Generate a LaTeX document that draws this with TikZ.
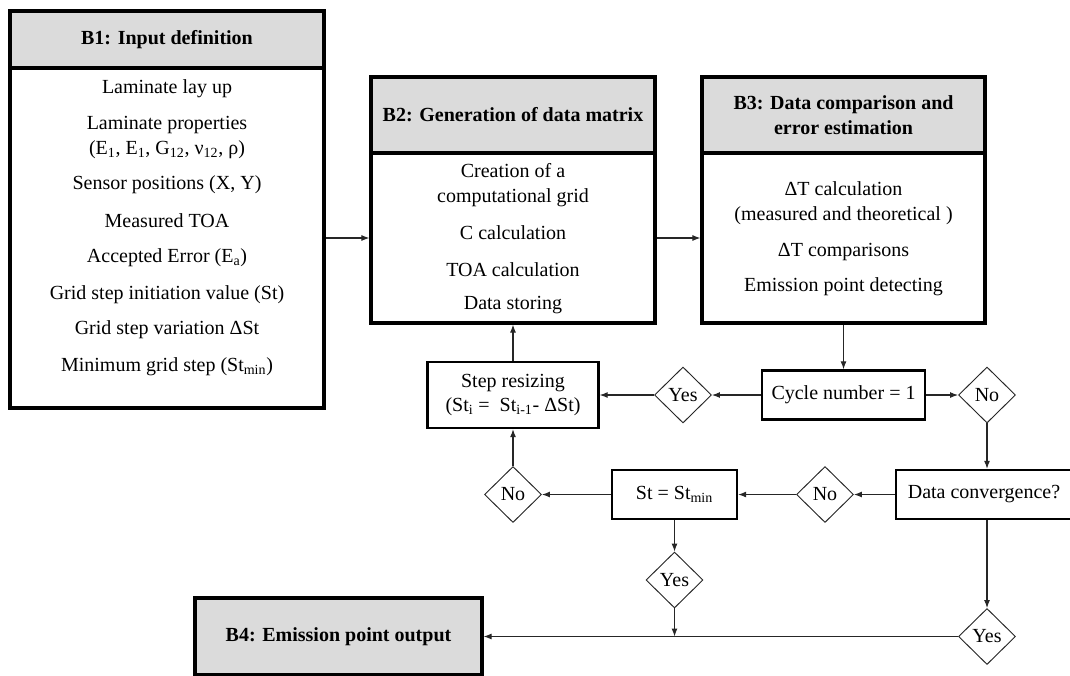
\documentclass[tikz,border=0pt]{standalone}
\usepackage{fontspec}
\setmainfont{Liberation Serif}
\usetikzlibrary{shapes.geometric,arrows.meta}
\newcommand{\tfnt}{\fontsize{15}{18.5}\selectfont}
\begin{document}
\begin{tikzpicture}[x=0.75pt,y=-0.75pt,
  txt/.style={font=\tfnt, align=center, inner sep=0pt},
  bigbox/.style={draw=black, line width=2.4pt, inner sep=0pt, align=center},
  hdrbox/.style={bigbox, fill=black!14, font=\tfnt\bfseries},
  smallbox/.style={draw=black, line width=1.8pt, inner sep=0pt, align=center, font=\tfnt},
  dec/.style={diamond, draw=black!85, line width=0.7pt, inner sep=0pt, minimum width=42.75pt, minimum height=42pt, font=\tfnt},
  arr/.style={draw=black!85, line width=0.8pt, -{Latex[length=6pt,width=4.5pt]}},
]
\useasboundingbox (0,0) rectangle (1070,675);

% B1
\node[bigbox, minimum width=235.5pt, minimum height=255pt] (b1) at (167,238) {};
\node[hdrbox, minimum width=235.5pt, minimum height=42.75pt] (b1h) at (167,39.5) {B1: Input definition};
\node[txt] (b1t1) at (167,89) {Laminate lay up};
\node[txt] (b1t2) at (167,137.5) {Laminate properties\\(E\textsubscript{1}, E\textsubscript{1}, G\textsubscript{12}, ν\textsubscript{12}, ρ)};
\node[txt] (b1t3) at (167,185) {Sensor positions (X, Y)};
\node[txt] (b1t4) at (167,221) {Measured TOA};
\node[txt] (b1t5) at (167,258) {Accepted Error (E\textsubscript{a})};
\node[txt] (b1t6) at (167,295) {Grid step initiation value (St)};
\node[txt] (b1t7) at (167,330) {Grid step variation ΔSt};
\node[txt] (b1t8) at (167,367) {Minimum grid step (St\textsubscript{min})};

% B2
\node[bigbox, minimum width=213pt, minimum height=127.5pt] (b2) at (513,238) {};
\node[hdrbox, minimum width=213pt, minimum height=57pt] (b2h) at (513,115) {B2: Generation of data matrix};
\node[txt] (b2t1) at (513,185) {Creation of a\\computational grid};
\node[txt] (b2t2) at (513,233) {C calculation};
\node[txt] (b2t3) at (513,270) {TOA calculation};
\node[txt] (b2t4) at (513,305) {Data storing};

% B3
\node[bigbox, minimum width=212.25pt, minimum height=127.5pt] (b3) at (843.5,238) {};
\node[hdrbox, minimum width=212.25pt, minimum height=57pt] (b3h) at (843.5,115) {B3: Data comparison and\\error estimation};
\node[txt] (b3t1) at (843.5,203.5) {ΔT calculation\\(measured and theoretical )};
\node[txt] (b3t2) at (843.5,252) {ΔT comparisons};
\node[txt] (b3t3) at (843.5,287) {Emission point detecting};

% loop
\node[smallbox, minimum width=128.25pt, minimum height=49.5pt] (step) at (513,395) {Step resizing\\(St\textsubscript{i} =\ \ St\textsubscript{i-1}- ΔSt)};
\node[dec] (yes1) at (683,395) {Yes};
\node[smallbox, minimum width=122.25pt, minimum height=36.75pt] (cyc) at (843.5,395) {Cycle number = 1};
\node[dec] (no1) at (987,395) {No};
\node[smallbox, minimum width=132pt, minimum height=36.75pt] (dc) at (984,494.5) {Data convergence?};
\node[dec] (no2) at (825,494.5) {No};
\node[smallbox, minimum width=93.75pt, minimum height=36.75pt] (st) at (674.5,494.5) {St = St\textsubscript{min}};
\node[dec] (no3) at (513,494.5) {No};
\node[dec] (yes2) at (674.5,580) {Yes};
\node[dec] (yes3) at (987,636.5) {Yes};

% B4
\node[hdrbox, minimum width=215.25pt, minimum height=57.75pt] (b4) at (338.5,636.5) {B4: Emission point output};

% connectors
\draw[arr] (b1.east) -- (b2.west);
\draw[arr] (b2.east) -- (b3.west);
\draw[arr] (b3.south) -- (cyc.north);
\draw[arr] (cyc.west) -- (yes1.east);
\draw[arr] (yes1.west) -- (step.east);
\draw[arr] (cyc.east) -- (no1.west);
\draw[arr] (no1.south) -- (no1.south |- dc.north);
\draw[arr] (dc.west) -- (no2.east);
\draw[arr] (no2.west) -- (st.east);
\draw[arr] (st.west) -- (no3.east);
\draw[arr] (no3.north) -- (step.south);
\draw[arr] (step.north) -- (b2.south);
\draw[arr] (st.south) -- (yes2.north);
\draw[arr] (yes2.south) -- (yes2.south |- b4.east);
\draw[arr] (yes3.north |- dc.south) -- (yes3.north);
\draw[arr] (yes3.west) -- (b4.east);
\end{tikzpicture}
\end{document}
